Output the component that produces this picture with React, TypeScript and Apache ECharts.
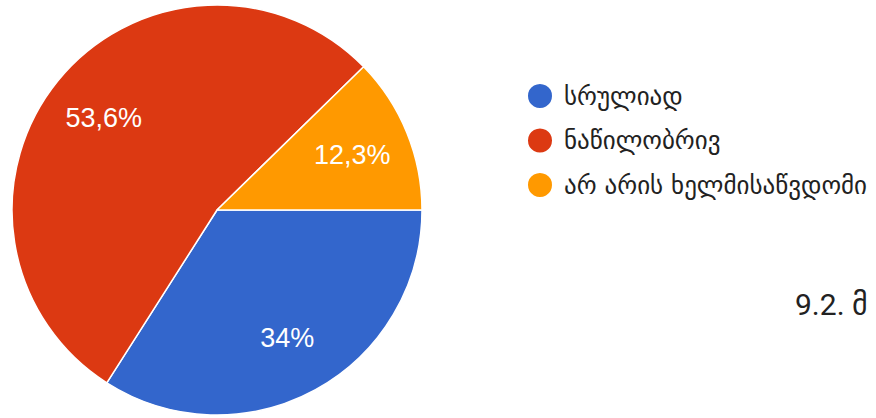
import React, { useEffect, useRef } from "react";
import * as echarts from "echarts";

const categories = ["სრულიად", "ნაწილობრივ", "არ არის ხელმისაწვდომი"];
const values = [34, 53.6, 12.3];
const colors = ["#3366CC", "#DC3912", "#FF9900"];
const titleText = "9.2. მ";

export default function App() {
  const ref = useRef<HTMLDivElement>(null);
  useEffect(() => {
    if (!ref.current) return;
    const chart = echarts.init(ref.current, null, { renderer: "svg" });
    const data = categories.map((name, i) => ({
      name,
      value: values[i],
      itemStyle: { color: colors[i] },
    }));
    chart.setOption({
      animation: false,
      title: {
        text: titleText,
        left: 795,
        top: 289,
        padding: 0,
        textStyle: {
          fontSize: 30,
          fontWeight: "normal",
          color: "#222222",
          fontFamily: "Roboto, 'DejaVu Sans', sans-serif",
        },
      },
      legend: {
        orient: "vertical",
        left: 521,
        top: 77,
        itemWidth: 26,
        itemHeight: 26,
        itemGap: 16.5,
        icon: "circle",
        data: categories,
        textStyle: {
          fontSize: 25,
          color: "#222222",
          fontFamily: "'DejaVu Sans', sans-serif",
          padding: [0, 0, 0, 6],
        },
      },
      series: [
        {
          type: "pie",
          center: [217, 210],
          radius: [0, 205],
          startAngle: 0,
          clockwise: true,
          silent: true,
          label: { show: false },
          labelLine: { show: false },
          itemStyle: { borderColor: "#ffffff", borderWidth: 1.5 },
          data,
        },
        {
          type: "pie",
          center: [217, 210],
          radius: [0, 286],
          startAngle: 0,
          clockwise: true,
          silent: true,
          legendHoverLink: false,
          itemStyle: { color: "rgba(0,0,0,0)", borderWidth: 0 },
          label: {
            show: true,
            position: "inside",
            color: "#ffffff",
            fontSize: 27,
            fontFamily: "'Liberation Sans', Arial, sans-serif",
            formatter: (p: any) => String(p.value).replace(".", ",") + "%",
          },
          labelLine: { show: false },
          data: categories.map((name, i) => ({ name, value: values[i] })),
        },
      ],
    });
    return () => chart.dispose();
  }, []);
  return (
    <div
      ref={ref}
      style={{ position: "fixed", left: 0, top: 0, width: 876, height: 418, background: "#ffffff" }}
    />
  );
}
